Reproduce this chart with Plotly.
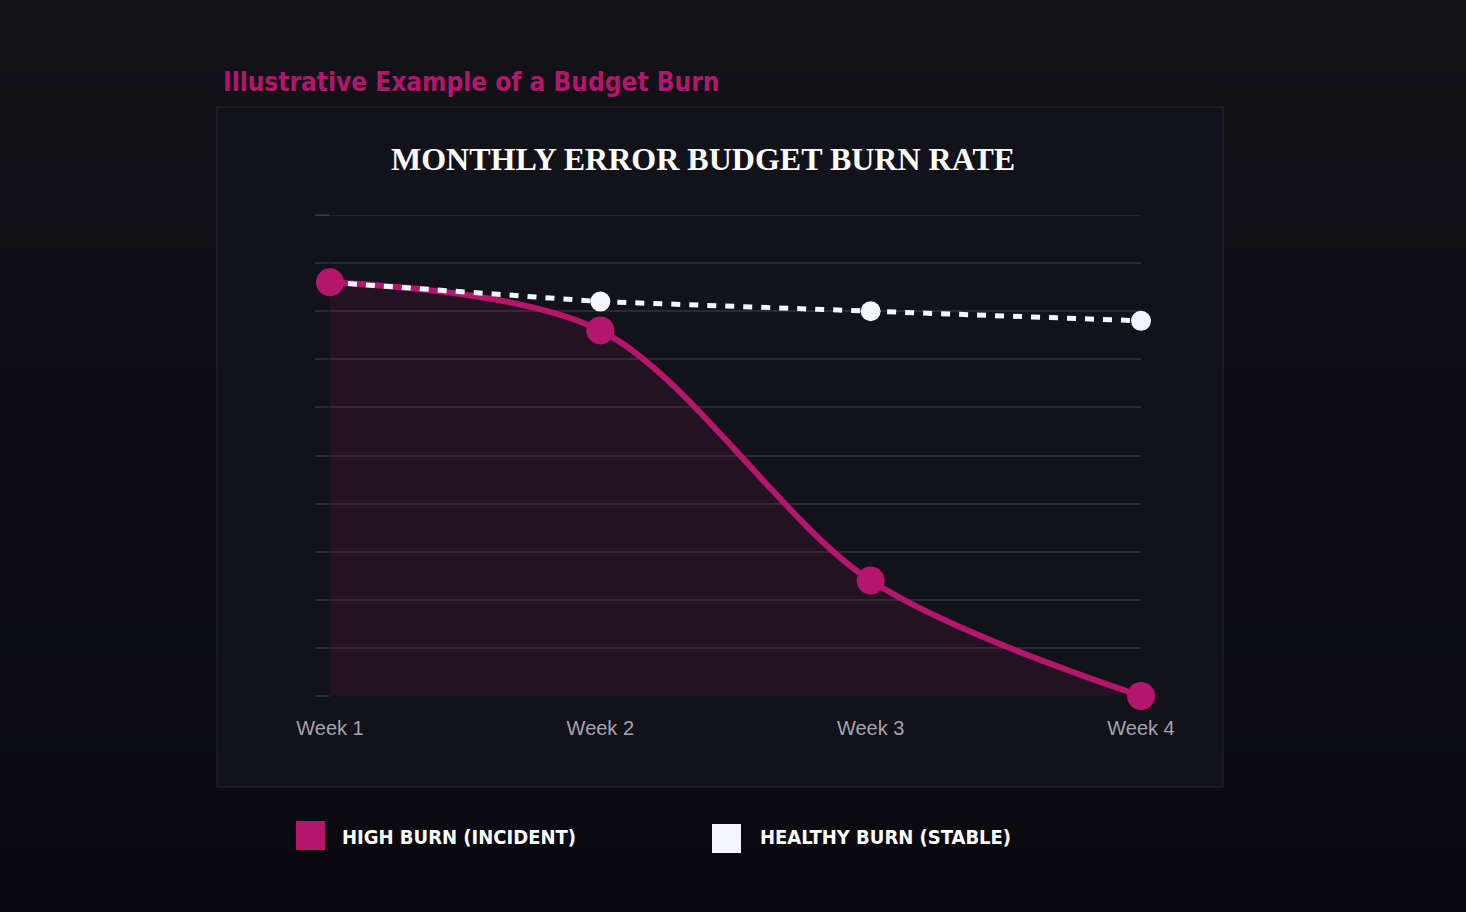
import plotly.graph_objects as go

weeks = ["Week 1", "Week 2", "Week 3", "Week 4"]
high_burn = [86, 76, 24, 0]
healthy_burn = [86, 82, 80, 78]
series_names = ["HIGH BURN (INCIDENT)", "HEALTHY BURN (STABLE)"]

MAGENTA = "#b3166b"
WHITE = "#f4f6fb"
W, H = 1466, 912
L, R, T, B = 330, 1141, 215, 696

x = list(range(len(weeks)))

fig = go.Figure()

# high burn line + area
fig.add_trace(go.Scatter(
    x=x, y=high_burn, mode="lines", name=series_names[0],
    line=dict(color=MAGENTA, width=6, shape="spline", smoothing=0.9),
    fill="tozeroy", fillcolor="rgba(179,22,107,0.10)", cliponaxis=False,
    showlegend=False, hoverinfo="skip"))

# healthy burn
fig.add_trace(go.Scatter(
    x=x, y=healthy_burn, mode="lines+markers", name=series_names[1],
    line=dict(color=WHITE, width=5, dash="9px,9px"),
    marker=dict(size=20, color=WHITE), cliponaxis=False,
    showlegend=False, hoverinfo="skip"))

# high burn points on top
fig.add_trace(go.Scatter(
    x=x, y=high_burn, mode="markers", name=series_names[0],
    marker=dict(size=28, color=MAGENTA), cliponaxis=False,
    showlegend=False, hoverinfo="skip"))


def px_x(p):
    return (p - L) / (R - L)


def px_y(p):
    return (B - p) / (B - T)


shapes = []
# background vertical gradient (styling)
top_rgb, bot_rgb = (18, 18, 23), (10, 9, 17)
n_bands = 40
for i in range(n_bands):
    t = i / (n_bands - 1)
    c = tuple(round(a + (b - a) * t) for a, b in zip(top_rgb, bot_rgb))
    y0 = H * i / n_bands
    y1 = H * (i + 1) / n_bands
    shapes.append(dict(type="rect", xref="paper", yref="paper",
                       x0=px_x(-5), x1=px_x(W + 5),
                       y0=px_y(y1 + (5 if i == n_bands - 1 else 0.5)),
                       y1=px_y(y0 - (5 if i == 0 else 0)),
                       fillcolor="rgb(%d,%d,%d)" % c, line=dict(width=0), layer="below"))
# card
shapes.append(dict(type="rect", xref="paper", yref="paper",
                   x0=px_x(217), x1=px_x(1223), y0=px_y(787), y1=px_y(107),
                   fillcolor="#12121a", line=dict(color="rgba(255,255,255,0.07)", width=1.5),
                   layer="below"))
# top gridline (at plot edge)
shapes.append(dict(type="line", xref="paper", yref="y",
                   x0=px_x(316), x1=1, y0=100, y1=100,
                   line=dict(color="rgba(255,255,255,0.10)", width=1.5), layer="below"))
# legend squares
shapes.append(dict(type="rect", xref="paper", yref="paper",
                   x0=px_x(296), x1=px_x(325), y0=px_y(850), y1=px_y(821),
                   fillcolor=MAGENTA, line=dict(width=0)))
shapes.append(dict(type="rect", xref="paper", yref="paper",
                   x0=px_x(712), x1=px_x(741), y0=px_y(853), y1=px_y(824),
                   fillcolor=WHITE, line=dict(width=0)))

annotations = [
    dict(text="Illustrative Example of a Budget Burn", xref="paper", yref="paper",
         x=px_x(221), y=px_y(82), xanchor="left", yanchor="middle", showarrow=False,
         font=dict(family="DejaVu Sans Condensed, DejaVu Sans", size=26, color=MAGENTA, weight="bold")),
    dict(text="<b>MONTHLY ERROR BUDGET BURN RATE</b>", xref="paper", yref="paper",
         x=px_x(703), y=px_y(159), xanchor="center", yanchor="middle", showarrow=False,
         font=dict(family="Liberation Serif, serif", size=32, color="#ffffff")),
    dict(text=series_names[0], xref="paper", yref="paper",
         x=px_x(340), y=px_y(837), xanchor="left", yanchor="middle", showarrow=False,
         font=dict(family="DejaVu Sans Condensed, DejaVu Sans", size=20, color="#ffffff", weight="bold")),
    dict(text=series_names[1], xref="paper", yref="paper",
         x=px_x(758), y=px_y(837), xanchor="left", yanchor="middle", showarrow=False,
         font=dict(family="DejaVu Sans Condensed, DejaVu Sans", size=20, color="#ffffff", weight="bold")),
]

fig.update_layout(
    width=W, height=H,
    paper_bgcolor="#0e0e14", plot_bgcolor="rgba(0,0,0,0)",
    margin=dict(l=L, r=W - R, t=T, b=H - B, pad=0),
    shapes=shapes, annotations=annotations,
    showlegend=False,
    xaxis=dict(range=[0, 3], tickmode="array", tickvals=x, ticktext=weeks,
               showgrid=False, zeroline=False, showline=False,
               ticks="outside", ticklen=0, ticklabelstandoff=14,
               tickfont=dict(family="Liberation Sans, Arial", size=20, color="#a4a4ae")),
    yaxis=dict(range=[0, 100], dtick=10, showticklabels=False,
               showgrid=True, gridcolor="rgba(255,255,255,0.10)", gridwidth=1.5,
               zeroline=False, showline=False,
               ticks="outside", ticklen=14, tickcolor="rgba(255,255,255,0.10)", tickwidth=1.5),
)

fig.write_html("out.html")
